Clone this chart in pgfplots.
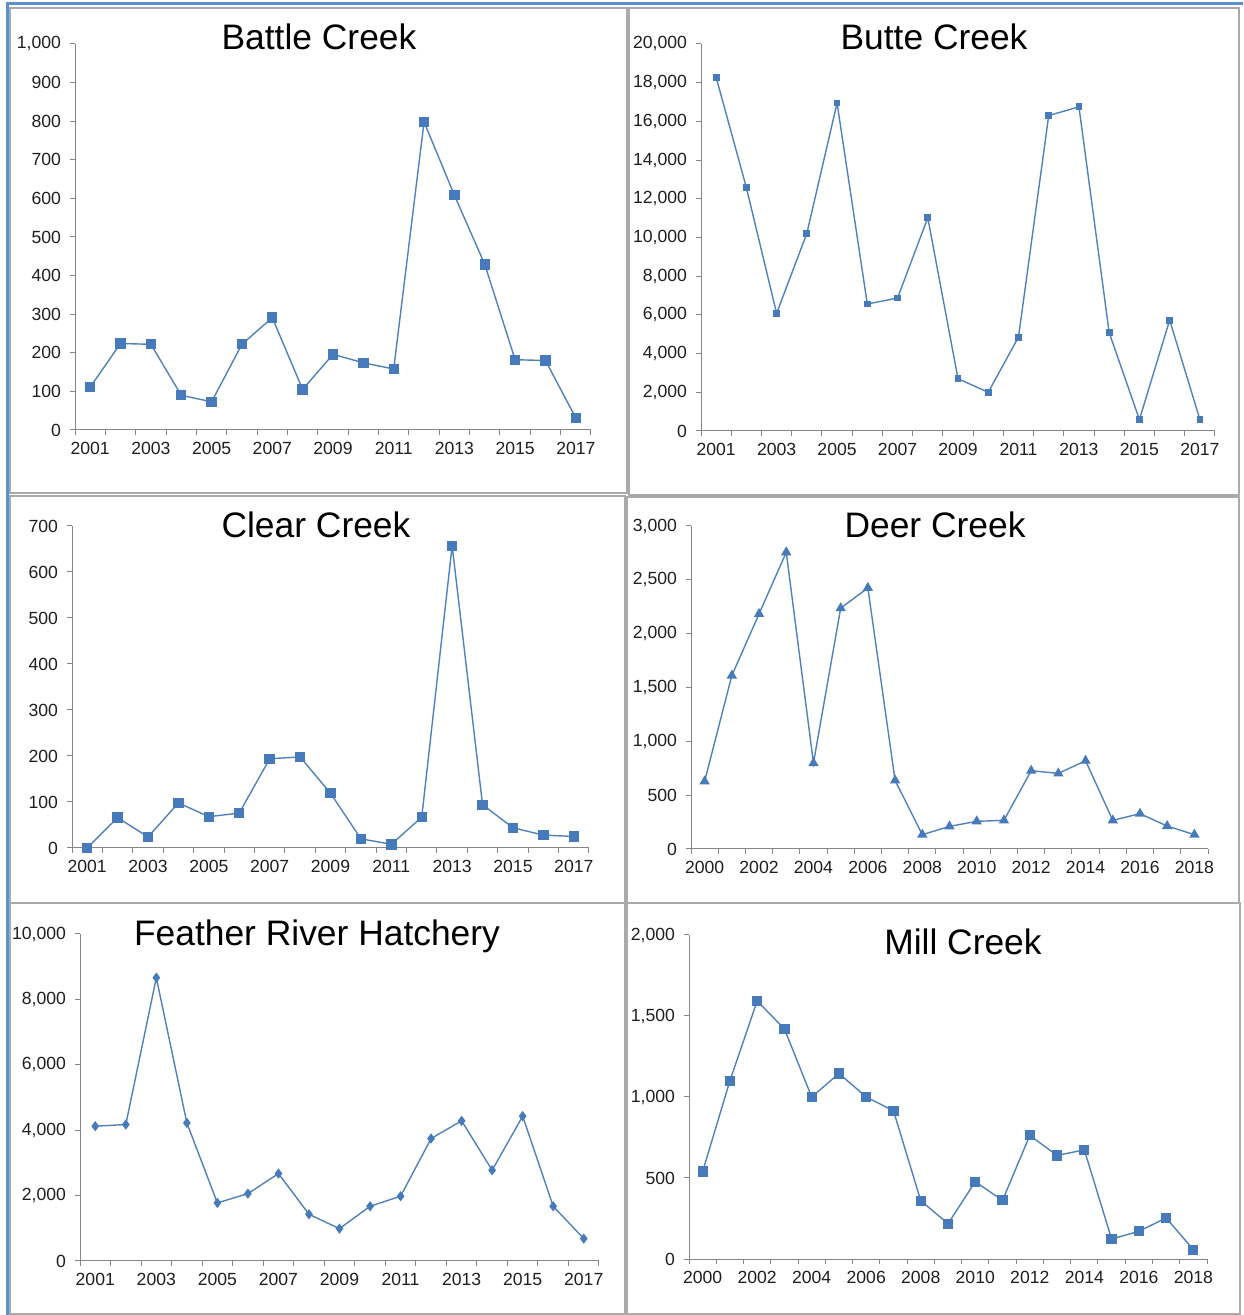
\documentclass[border=0pt]{standalone}
\usepackage{pgfplots}
\pgfplotsset{compat=1.18}
\usepackage{fontspec}
\setmainfont{Liberation Sans}
\definecolor{lineblue}{RGB}{79,129,189}
\definecolor{markblue}{RGB}{70,122,186}
\definecolor{axisgray}{RGB}{134,134,134}
\definecolor{framegray}{RGB}{170,170,170}
\definecolor{outerblue}{RGB}{91,143,205}
\definecolor{ticktext}{RGB}{30,30,30}
\newcommand{\ticfont}{\fontsize{8.8}{10}\selectfont}
\newcommand{\titfont}{\fontsize{17.7}{20}\selectfont}
\pgfplotsset{
  panel/.style={
    scale only axis, anchor=south west,
    axis x line*=bottom, axis y line*=left,
    axis line style={draw=axisgray, line width=0.5pt, -},
    tick align=outside,
    major tick length=2.5pt, minor tick length=2.5pt,
    ymin=0,
    major x tick style={draw=none},
    y tick style={draw=axisgray, line width=0.5pt},
    minor x tick style={draw=axisgray, line width=0.5pt},
    tick label style={font=\ticfont, text=ticktext},
    yticklabel style={xshift=-1pt, /pgf/number format/.cd, fixed, precision=0, 1000 sep={,}},
    scaled y ticks=false,
    /pgf/number format/assume math mode=true,
    clip=false,
  },
  oddyears/.style={
    xmin=2000.5, xmax=2017.5,
    xtick={2001,2003,2005,2007,2009,2011,2013,2015,2017},
    xticklabels={2001,2003,2005,2007,2009,2011,2013,2015,2017},
    minor xtick={2000.5,2001.5,...,2017.5},
  },
  evenyears/.style={
    xmin=1999.5, xmax=2018.5,
    xtick={2000,2002,2004,2006,2008,2010,2012,2014,2016,2018},
    xticklabels={2000,2002,2004,2006,2008,2010,2012,2014,2016,2018},
    minor xtick={1999.5,2000.5,...,2018.5},
  },
  series/.style={color=lineblue, line width=0.7pt, mark options={fill=markblue, draw=markblue, solid}},
}
\begin{document}
\begin{tikzpicture}
\useasboundingbox (0,0) rectangle (621.5pt,657.5pt);
% panel frames
\begin{scope}[draw=framegray, line width=0.75pt]
\draw (5pt,411pt) rectangle (313.5pt,653.5pt);
\draw (314.5pt,410pt) rectangle (619.5pt,653.5pt);
\draw (5pt,206pt) rectangle (312.5pt,409.5pt);
\draw (313.5pt,206pt) rectangle (619.5pt,409pt);
\draw (5pt,0.5pt) rectangle (312.5pt,206pt);
\draw (313.5pt,0.5pt) rectangle (620pt,206pt);
\end{scope}
\draw[outerblue, line width=1.5pt] (3.5pt,0pt) -- (3.5pt,655.5pt) -- (621.5pt,655.5pt);

% titles
\node[anchor=base, font=\titfont] at (159.5pt,632.5pt) {Battle Creek};
\node[anchor=base, font=\titfont] at (467pt,632.5pt) {Butte Creek};
\node[anchor=base, font=\titfont] at (158pt,388.5pt) {Clear Creek};
\node[anchor=base, font=\titfont] at (467.5pt,388.5pt) {Deer Creek};
\node[anchor=base, font=\titfont] at (158.5pt,184.5pt) {Feather River Hatchery};
\node[anchor=base, font=\titfont] at (481.5pt,180pt) {Mill Creek};

% Battle Creek
\begin{axis}[panel, oddyears, at={(37.5pt,442.5pt)}, width=258pt, height=193pt,
  ymax=1000, ytick={0,100,...,1000}]
\addplot[series, mark=square*, mark size=2.25pt] coordinates {
(2001,111) (2002,224) (2003,222) (2004,90) (2005,73) (2006,222) (2007,291) (2008,105)
(2009,196) (2010,174) (2011,158) (2012,798) (2013,608) (2014,429) (2015,182) (2016,180) (2017,31)};
\end{axis}

% Butte Creek
\begin{axis}[panel, oddyears, at={(350.5pt,442pt)}, width=257pt, height=193.5pt,
  ymax=20000, ytick={0,2000,...,20000}]
\addplot[series, mark=square*, mark size=1.35pt] coordinates {
(2001,18280) (2002,12580) (2003,6080) (2004,10210) (2005,16950) (2006,6560) (2007,6870) (2008,11020)
(2009,2700) (2010,2000) (2011,4850) (2012,16300) (2013,16750) (2014,5080) (2015,590) (2016,5730) (2017,590)};
\end{axis}

% Clear Creek
\begin{axis}[panel, oddyears, at={(36pt,233.5pt)}, width=258.5pt, height=161pt,
  ymax=700, ytick={0,100,...,700}]
\addplot[series, mark=square*, mark size=2.25pt] coordinates {
(2001,0) (2002,66) (2003,24) (2004,98) (2005,68) (2006,76) (2007,194) (2008,198)
(2009,119) (2010,20) (2011,8) (2012,67) (2013,657) (2014,94) (2015,44) (2016,28) (2017,25)};
\end{axis}

% Deer Creek
\begin{axis}[panel, evenyears, at={(345.5pt,233pt)}, width=258.5pt, height=161.5pt,
  ymax=3000, ytick={0,500,...,3000}]
\addplot[series, mark=triangle*, mark size=2.3pt] coordinates {
(2000,628) (2001,1611) (2002,2183) (2003,2756) (2004,798) (2005,2236) (2006,2425) (2007,637)
(2008,133) (2009,210) (2010,257) (2011,266) (2012,727) (2013,702) (2014,820) (2015,266)
(2016,328) (2017,213) (2018,133)};
\end{axis}

% Feather River Hatchery
\begin{axis}[panel, oddyears, at={(40pt,27pt)}, width=259.5pt, height=163.5pt,
  ymax=10000, ytick={0,2000,...,10000}]
\addplot[series, mark=diamond*, mark size=2pt] coordinates {
(2001,4122) (2002,4173) (2003,8663) (2004,4224) (2005,1776) (2006,2061) (2007,2673) (2008,1429)
(2009,990) (2010,1673) (2011,1980) (2012,3745) (2013,4286) (2014,2776) (2015,4429) (2016,1673) (2017,684)};
\end{axis}

% Mill Creek
\begin{axis}[panel, evenyears, at={(344.5pt,28pt)}, width=259pt, height=162pt,
  ymax=2000, ytick={0,500,...,2000}]
\addplot[series, mark=square*, mark size=2.2pt] coordinates {
(2000,540) (2001,1100) (2002,1593) (2003,1420) (2004,1000) (2005,1145) (2006,1000) (2007,915)
(2008,360) (2009,218) (2010,477) (2011,362) (2012,763) (2013,639) (2014,674) (2015,123)
(2016,171) (2017,253) (2018,58)};
\end{axis}
\end{tikzpicture}
\end{document}
